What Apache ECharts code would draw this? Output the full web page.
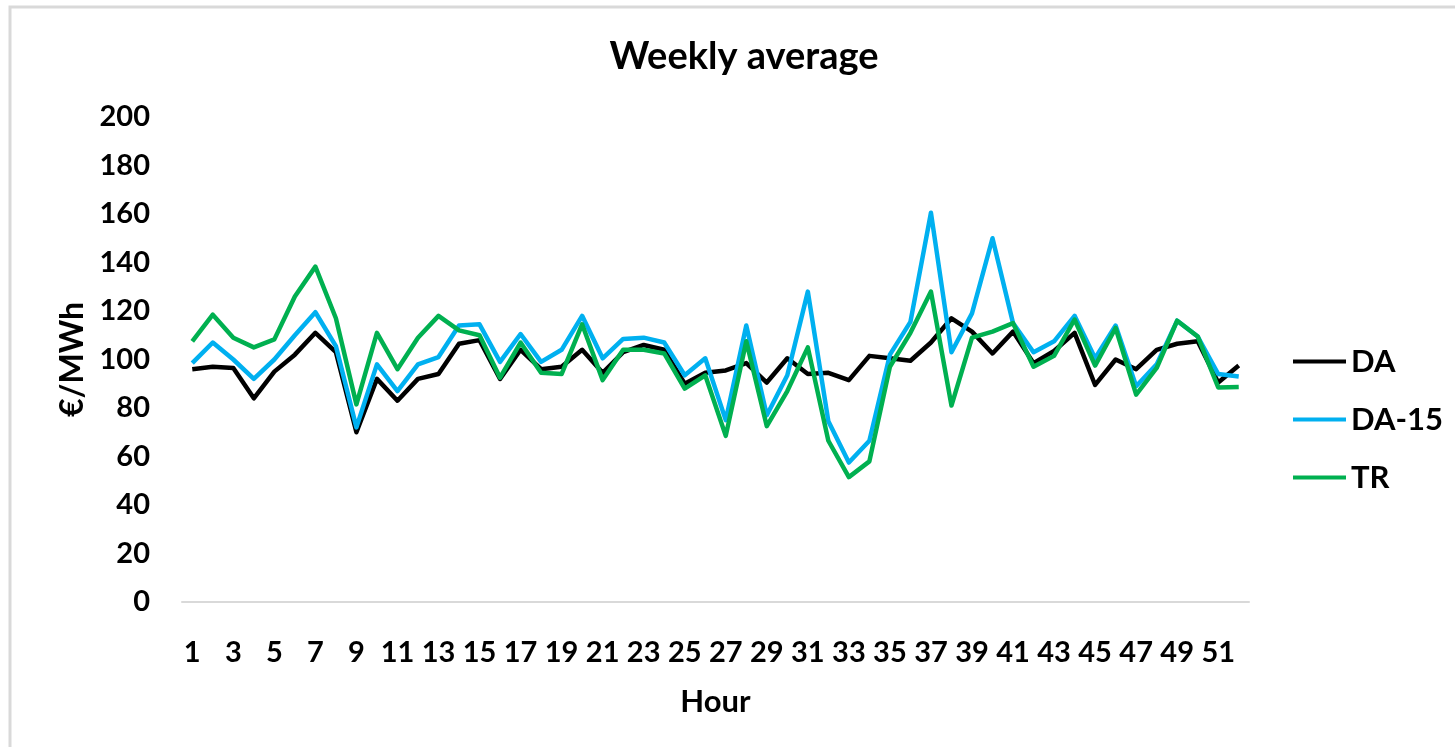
<!DOCTYPE html>
<html lang="en">

<head>
  <meta charset="UTF-8">
  <title>Weekly average</title>
  <style>
    html, body {
      margin: 0;
      padding: 0;
      background: #fff;
    }

    #main {
      width: 1455px;
      height: 747px;
    }
  </style>
</head>

<body>
  <div id="main"></div>

  <script src="https://cdn.jsdelivr.net/npm/echarts@6/dist/echarts.min.js"></script>
  <script>
    // weeks 1..52
    const hours = Array.from({ length: 52 }, (_, i) => String(i + 1));

    const da = [96, 97, 96.5, 84, 95, 102, 111, 103, 70, 92, 83, 92, 94, 106.5, 108, 92, 104, 96, 97, 104,
      94.5, 103, 106, 104, 90, 94.5, 95.5, 98.5, 90.5, 100.5, 94, 94.5, 91.5, 101.5, 100.5, 99.5, 107, 117,
      111.5, 102.5, 111.5, 98.5, 103.5, 111, 89.5, 100, 96, 104, 106.5, 107.5, 90.5, 97.5];

    const da15 = [98.5, 107, 100, 92, 100, 110, 119.5, 105.5, 72, 98, 87, 98, 101, 114, 114.5, 99, 110.5, 99,
      104, 118, 100.5, 108.5, 109, 107, 93.5, 100.5, 75, 114, 77, 93.5, 128, 74.5, 57.5, 66.5, 102, 115.5,
      160.5, 103, 119, 150, 115, 103, 107.5, 118, 100.5, 114, 89, 98, 116, 109.5, 94, 93];

    const tr = [107.5, 118.5, 109, 105, 108.3, 126, 138.3, 117, 81.5, 111, 96, 109, 118, 112, 110, 92.5, 107,
      94.5, 94, 114.5, 91.5, 104, 104, 102.5, 88, 93.5, 68.5, 107.5, 72.5, 87, 105, 66.5, 51.5, 58, 97, 111,
      128, 81, 109, 111.5, 115, 97, 101.5, 116.5, 97.5, 113, 85.5, 96.5, 116, 109.5, 88.5, 88.7];

    const font = 'Lato, "Open Sans", sans-serif';

    const chart = echarts.init(document.getElementById('main'));

    const mkLine = (name, values, color) => ({
      name,
      type: 'line',
      data: values,
      symbol: 'none',
      lineStyle: { color, width: 4.5, join: 'round' },
      itemStyle: { color },
    });

    chart.setOption({
      animation: false,
      textStyle: { fontFamily: font },
      graphic: [{
        type: 'rect',
        shape: { x: 10, y: 7, width: 1600, height: 900 },
        style: { fill: 'none', stroke: '#d9d9d9', lineWidth: 3 },
        silent: true,
      }],
      title: {
        text: 'Weekly average',
        left: 739,
        textAlign: 'center',
        top: 33,
        textStyle: { fontFamily: font, fontSize: 38, fontWeight: 'bold', color: '#000' },
      },
      legend: {
        orient: 'vertical',
        left: 1288,
        top: 341,
        itemWidth: 53,
        itemHeight: 4,
        itemGap: 27,
        icon: 'rect',
        textStyle: { fontFamily: font, fontSize: 31, fontWeight: 'bold', color: '#000' },
        data: ['DA', 'DA-15', 'TR'],
      },
      grid: {
        left: 182,
        right: 206,
        top: 117,
        bottom: 145,
      },
      xAxis: {
        type: 'category',
        data: hours,
        name: 'Hour',
        nameLocation: 'middle',
        nameGap: 84,
        nameTextStyle: { fontFamily: font, fontSize: 31, fontWeight: 'bold', color: '#000' },
        axisLine: { lineStyle: { color: '#d9d9d9', width: 2 } },
        axisTick: { show: false },
        axisLabel: {
          interval: 1,
          margin: 36,
          fontFamily: font,
          fontSize: 29,
          fontWeight: 'bold',
          color: '#000',
        },
      },
      yAxis: {
        type: 'value',
        min: 0,
        max: 200,
        interval: 20,
        name: '€/MWh',
        nameLocation: 'middle',
        nameGap: 92,
        nameTextStyle: { fontFamily: font, fontSize: 32, fontWeight: 'bold', color: '#000' },
        axisLine: { show: false },
        axisTick: { show: false },
        splitLine: { show: false },
        axisLabel: {
          margin: 32,
          fontFamily: font,
          fontSize: 29,
          fontWeight: 'bold',
          color: '#000',
        },
      },
      series: [
        mkLine('DA', da, '#000000'),
        mkLine('DA-15', da15, '#00b0f0'),
        mkLine('TR', tr, '#00b050'),
      ],
    });
  </script>
</body>

</html>
